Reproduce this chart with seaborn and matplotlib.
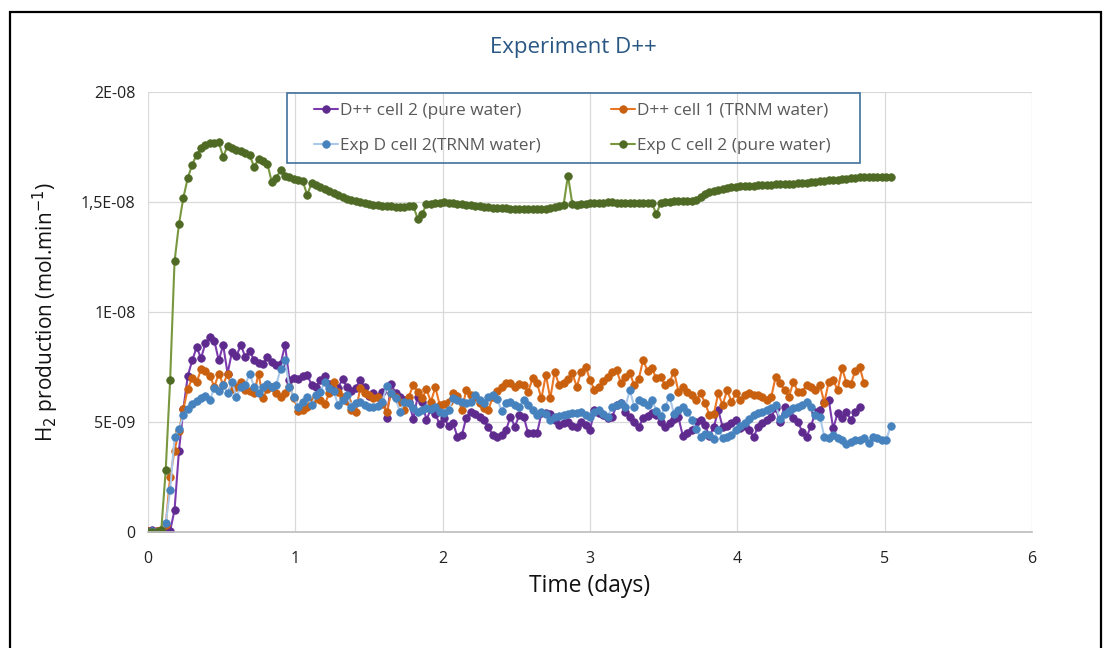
import numpy as np
import pandas as pd
import seaborn as sns
import matplotlib.pyplot as plt
from matplotlib.patches import Rectangle

# --- Data (H2 production in 1E-09 mol/min, one point every STEP days) ---
STEP = 0.03
UNIT = 1e-9

d_cell2_pure = [
    0.05, 0.1, 0.05, 0.0, 0.0, 0.05, 1.0, 3.7, 5.6, 7.1,
    7.8, 8.4, 7.9, 8.6, 8.85, 8.7, 7.8, 8.5, 7.2, 8.2,
    8.0, 8.5, 7.95, 8.25, 7.8, 7.7, 7.65, 7.95, 7.75, 7.6,
    7.65, 8.5, 6.9, 7.0, 6.95, 7.1, 7.14, 6.7, 6.6, 6.9,
    7.1, 6.75, 6.6, 6.55, 6.95, 6.6, 6.4, 6.55, 6.9, 6.6,
    6.2, 6.3, 6.15, 6.35, 5.2, 6.75, 6.3, 6.15, 6.0, 5.9,
    5.15, 6.15, 5.9, 5.1, 5.6, 5.35, 4.9, 5.2, 4.8, 4.95,
    4.33, 4.4, 5.2, 5.47, 5.36, 5.24, 5.09, 4.76, 4.41, 4.33,
    4.41, 4.64, 5.24, 4.79, 5.32, 5.24, 4.48, 4.48, 4.48, 5.39,
    5.39, 5.36, 5.09, 4.86, 4.94, 5.02, 4.82, 4.76, 5.02, 4.86,
    4.64, 5.55, 5.39, 5.32, 5.17, 5.21, 5.77, 5.85, 5.47, 5.24,
    5.02, 4.76, 5.17, 5.27, 5.39, 5.32, 5.02, 4.79, 4.97, 5.12,
    5.21, 4.36, 4.48, 4.64, 5.02, 5.09, 4.86, 4.36, 4.76, 5.55,
    4.76, 4.82, 4.97, 5.09, 4.71, 4.82, 4.64, 4.33, 4.76, 4.94,
    5.09, 5.24, 5.62, 5.02, 5.7, 5.47, 5.17, 5.02, 4.56, 4.33,
    4.82, 5.47, 5.55, 5.92, 6.0, 4.71, 5.39, 5.17, 5.47, 5.09,
    5.47, 5.7,
]

d_cell1_trnm = [
    0.05, 0.0, 0.05, 0.1, 0.3, 2.5, 3.7, 4.6, 5.6, 6.5,
    7.0, 6.8, 7.4, 7.3, 7.1, 6.6, 7.2, 6.7, 7.2, 6.5,
    6.6, 6.8, 6.45, 6.4, 6.3, 7.2, 6.07, 6.5, 6.6, 6.3,
    6.15, 6.3, 6.6, 6.1, 5.5, 5.55, 5.7, 5.92, 6.15, 6.0,
    5.82, 6.3, 6.83, 6.38, 6.15, 5.97, 5.55, 5.47, 6.53, 6.33,
    6.23, 6.08, 6.15, 5.82, 5.47, 6.3, 6.15, 5.92, 5.55, 6.15,
    6.68, 6.38, 6.08, 6.48, 5.92, 6.58, 5.77, 5.82, 5.92, 6.3,
    6.18, 5.55, 6.45, 6.23, 6.15, 5.85, 5.62, 5.55, 6.15, 6.42,
    6.6, 6.76, 6.79, 6.58, 6.73, 6.68, 6.38, 6.98, 6.76, 6.07,
    7.14, 6.07, 7.29, 6.68, 6.79, 6.94, 7.21, 6.6, 7.29, 7.52,
    6.91, 6.45, 6.6, 6.88, 7.03, 7.29, 7.36, 6.76, 7.06, 7.21,
    6.68, 6.94, 7.82, 7.33, 7.44, 6.98, 7.06, 6.68, 6.83, 7.29,
    6.38, 6.6, 6.38, 6.23, 6.0, 6.3, 5.88, 5.32, 5.36, 6.3,
    5.77, 6.45, 5.92, 6.3, 6.0, 6.23, 6.3, 6.23, 6.23, 6.12,
    6.0, 6.15, 7.06, 6.76, 6.45, 6.15, 6.83, 6.38, 6.38, 6.68,
    6.6, 6.45, 6.68, 5.88, 6.83, 6.91, 6.45, 7.44, 6.79, 6.73,
    7.33, 7.5, 6.76,
]

expd_cell2_trnm = [
    0.0, 0.05, 0.0, 0.05, 0.4, 1.9, 4.3, 4.7, 5.3, 5.6,
    5.8, 5.95, 6.1, 6.2, 6.0, 6.55, 6.4, 6.7, 6.3, 6.8,
    6.15, 6.6, 6.7, 7.2, 6.6, 6.3, 6.6, 6.75, 6.6, 6.7,
    7.4, 7.8, 6.6, 6.15, 5.7, 5.92, 6.15, 5.77, 6.23, 6.38,
    6.83, 6.53, 6.42, 5.77, 6.0, 6.23, 5.7, 5.85, 5.92, 5.77,
    5.7, 5.67, 5.73, 5.92, 6.64, 6.3, 6.08, 5.47, 5.92, 5.85,
    5.62, 5.47, 5.55, 5.62, 5.58, 5.67, 5.47, 5.39, 5.55, 6.08,
    6.0, 5.92, 5.85, 5.92, 6.23, 6.0, 5.88, 6.15, 6.23, 6.03,
    5.52, 5.85, 5.92, 5.77, 5.7, 6.0, 5.77, 5.55, 5.32, 5.47,
    5.36, 5.09, 5.24, 5.27, 5.32, 5.36, 5.39, 5.42, 5.47, 5.32,
    5.24, 5.47, 5.55, 5.36, 5.24, 5.7, 5.77, 5.85, 5.7, 6.45,
    5.7, 6.0, 5.92, 5.77, 6.0, 5.52, 5.27, 5.7, 6.15, 5.36,
    5.55, 5.7, 5.47, 5.09, 4.67, 4.33, 4.45, 4.41, 4.21, 4.64,
    4.26, 4.33, 4.41, 4.64, 4.82, 4.97, 5.12, 5.32, 5.39, 5.47,
    5.55, 5.62, 5.77, 5.12, 5.36, 5.52, 5.62, 5.7, 5.77, 5.92,
    5.7, 5.32, 5.24, 4.33, 4.26, 4.41, 4.26, 4.18, 4.0, 4.11,
    4.18, 4.18, 4.26, 4.06, 4.3, 4.26, 4.18, 4.18, 4.82,
]

expc_cell2_pure = [
    0.0, 0.0, 0.0, 0.1, 2.8, 6.9, 12.3, 14.0, 15.2, 16.1,
    16.7, 17.15, 17.45, 17.6, 17.67, 17.7, 17.72, 17.05, 17.55, 17.45,
    17.36, 17.3, 17.22, 17.12, 16.6, 16.95, 16.85, 16.75, 15.9, 16.1,
    16.45, 16.2, 16.12, 16.05, 15.98, 15.95, 15.32, 15.85, 15.78, 15.7,
    15.6, 15.52, 15.42, 15.3, 15.22, 15.15, 15.1, 15.05, 15.0, 14.95,
    14.9, 14.88, 14.85, 14.83, 14.8, 14.8, 14.78, 14.77, 14.78, 14.8,
    14.82, 14.25, 14.45, 14.9, 14.92, 14.95, 14.97, 14.98, 14.97, 14.95,
    14.92, 14.9, 14.88, 14.85, 14.83, 14.8, 14.78, 14.76, 14.75, 14.74,
    14.73, 14.72, 14.7, 14.7, 14.69, 14.68, 14.68, 14.67, 14.66, 14.68,
    14.7, 14.74, 14.78, 14.82, 14.85, 16.2, 14.9, 14.88, 14.9, 14.92,
    14.95, 14.96, 14.97, 14.97, 14.98, 14.98, 14.97, 14.96, 14.96, 14.95,
    14.95, 14.96, 14.95, 14.95, 14.94, 14.45, 14.97, 15.0, 15.02, 15.03,
    15.05, 15.06, 15.05, 15.03, 15.1, 15.25, 15.38, 15.45, 15.5, 15.55,
    15.6, 15.63, 15.66, 15.7, 15.72, 15.73, 15.74, 15.75, 15.76, 15.77,
    15.78, 15.78, 15.8, 15.81, 15.82, 15.83, 15.84, 15.85, 15.86, 15.88,
    15.9, 15.92, 15.94, 15.96, 15.98, 16.0, 16.02, 16.04, 16.06, 16.08,
    16.1, 16.12, 16.13, 16.14, 16.14, 16.13, 16.12, 16.12, 16.12,
]

labels = ["D++ cell 2 (pure water)", "D++ cell 1 (TRNM water)",
          "Exp D cell 2(TRNM water)", "Exp C cell 2 (pure water)"]
line_colors = ["#7B3BAE", "#E97624", "#A9C8EA", "#78973F"]
marker_colors = ["#5E2A8E", "#C9600F", "#4682BE", "#4E6A24"]

ytick_vals = [0, 5e-9, 1e-8, 1.5e-8, 2e-8]
ytick_labels = ["0", "5E-09", "1E-08", "1,5E-08", "2E-08"]

# --- Plot ---
sns.set_theme(style="white")
plt.rcParams["font.family"] = ["Open Sans", "DejaVu Sans"]

fig = plt.figure(figsize=(11.03, 6.48), dpi=100)
ax = fig.add_axes([0.1342, 0.179, 0.8015, 0.679])

all_series = [d_cell2_pure, d_cell1_trnm, expd_cell2_trnm, expc_cell2_pure]
for vals, lab, lc, mc in zip(all_series, labels, line_colors, marker_colors):
    df = pd.DataFrame({"t": np.arange(len(vals)) * STEP,
                       "h2": np.array(vals) * UNIT})
    sns.lineplot(data=df, x="t", y="h2", ax=ax, color=lc, linewidth=1.5,
                 marker="o", markersize=5.4, markerfacecolor=mc,
                 markeredgecolor=mc, markeredgewidth=0.6, label=lab)

ax.set_xlim(0, 6)
ax.set_ylim(0, 2e-8)
ax.set_xticks(range(7))
ax.set_yticks(ytick_vals)
ax.set_yticklabels(ytick_labels)
ax.tick_params(axis="both", labelsize=11.5, colors="#222222", length=0)
ax.tick_params(axis="x", pad=14)
ax.tick_params(axis="y", pad=9)
ax.grid(True, color="#D9D9D9", linewidth=0.9)
for s in ["left", "top", "right"]:
    ax.spines[s].set_visible(False)
ax.spines["bottom"].set_color("#BFBFBF")

ax.set_xlabel("Time (days)", fontsize=16.5, color="#111111", labelpad=5)
ax.set_ylabel("H$_2$ production (mol.min$^{-1}$)", fontsize=15,
              color="#111111", labelpad=14)

# legend box + 2 columns, same order as the original
ax.add_patch(Rectangle((0.157, 0.839), 0.648, 0.159, transform=ax.transAxes,
                       fill=False, edgecolor="#41719C", linewidth=1.2,
                       zorder=5, clip_on=False))
h, l = ax.get_legend_handles_labels()
order = [0, 2, 1, 3]
leg = ax.legend([h[i] for i in order], [l[i] for i in order], ncol=2,
                loc="upper left", bbox_to_anchor=(0.1878, 0.976),
                fontsize=12.4, frameon=False, handlelength=1.4,
                handletextpad=0.1, borderpad=0, borderaxespad=0,
                labelspacing=1.15, columnspacing=4.1)
for txt in leg.get_texts():
    txt.set_color("#595959")

fig.text(573 / 1103, 1 - 48 / 648, "Experiment D++", ha="center",
         va="center", fontsize=16, color="#2A5783")

fig.patches.append(Rectangle((10 / 1103, -0.05), 1091 / 1103, 1.05 - 12 / 648,
                             transform=fig.transFigure, fill=False,
                             edgecolor="black", linewidth=1.6))

fig.savefig("out.png", dpi=100)
